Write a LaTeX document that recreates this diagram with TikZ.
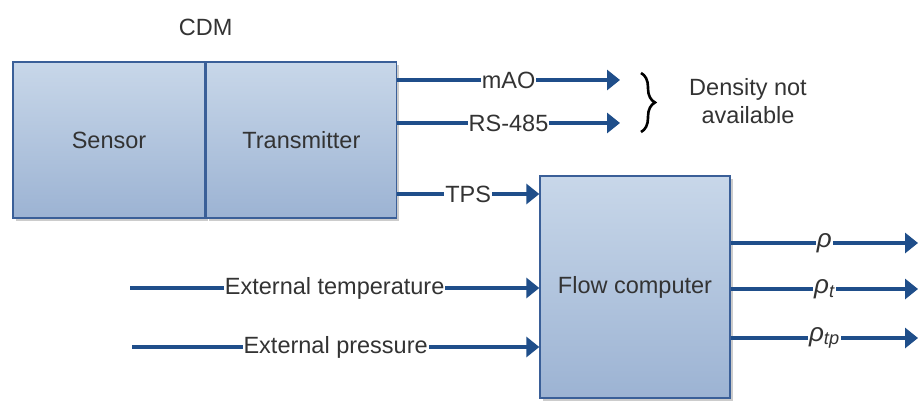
\documentclass[tikz,border=0pt]{standalone}
\usepackage{fontspec}
\setmainfont{Liberation Sans}
\usetikzlibrary{arrows.meta,positioning,shadows,decorations.pathreplacing}
\definecolor{BoxTop}{HTML}{C8D7E9}
\definecolor{BoxBottom}{HTML}{9CB3D3}
\definecolor{BoxEdge}{HTML}{3A5F98}
\definecolor{WireBlue}{HTML}{1F4E8A}
\definecolor{InkGray}{HTML}{333333}

\begin{document}
\begin{tikzpicture}[x=1pt,y=-1pt,
    font=\fontsize{23.5}{28}\selectfont,text=InkGray,
    box/.style={draw=BoxEdge,line width=1.4pt,top color=BoxTop,bottom color=BoxBottom,
                inner sep=0pt,align=center,
                drop shadow={shadow xshift=3pt,shadow yshift=-3pt,fill=black!40,opacity=.5}},
    arr/.style={-{Triangle[length=13pt,width=20pt]},line width=4.8pt,WireBlue},
    lbl/.style={fill=white,inner sep=1pt,text=InkGray}]
    \useasboundingbox (0,0) rectangle (918,401);
    \node[box,minimum width=192pt,minimum height=156pt] (sensor) at (109,140) {Sensor};
    \node[box,minimum width=190pt,minimum height=156pt,right=0pt of sensor] (trans) {Transmitter};
    \node[above=22pt of sensor.north east] (cdm) {CDM};
    \node[box,minimum width=190pt,minimum height=222pt] (flow) at (635,287) {Flow computer};
    % free ends
    \coordinate (maoEnd) at (620,80);
    \coordinate (rsEnd) at (620,123);
    \coordinate (tpsIn) at (0,194);
    \coordinate (tempStart) at (130,288);
    \coordinate (presStart) at (132,347);
    \coordinate (rhoEnd) at (918,243);
    \coordinate (rhotEnd) at (918,289);
    \coordinate (rhotpEnd) at (918,338);
    \draw[arr] (trans.east |- maoEnd) -- node[lbl] {mAO} (maoEnd);
    \draw[arr] (trans.east |- rsEnd) -- node[lbl] {RS-485} (rsEnd);
    \draw[arr] (trans.east |- tpsIn) -- node[lbl] {TPS} (flow.west |- tpsIn);
    \draw[arr] (tempStart) -- node[lbl] {External temperature} (flow.west |- tempStart);
    \draw[arr] (presStart) -- node[lbl] {External pressure} (flow.west |- presStart);
    \draw[arr] (flow.east |- rhoEnd) -- node[lbl] {\fontsize{26}{28}\selectfont\itshape ρ} (rhoEnd);
    \draw[arr] (flow.east |- rhotEnd) -- node[lbl] {\fontsize{26}{28}\selectfont\itshape ρ\textsubscript{t}} (rhotEnd);
    \draw[arr] (flow.east |- rhotpEnd) -- node[lbl] {\fontsize{26}{28}\selectfont\itshape ρ\textsubscript{tp}} (rhotpEnd);
    \draw[decorate,decoration={brace,amplitude=14pt,aspect=.5},line width=2.6pt,black]
        (641,73) -- (641,132);
    \node[align=center] (nodens) at (748,101) {Density not\\available};
\end{tikzpicture}
\end{document}
